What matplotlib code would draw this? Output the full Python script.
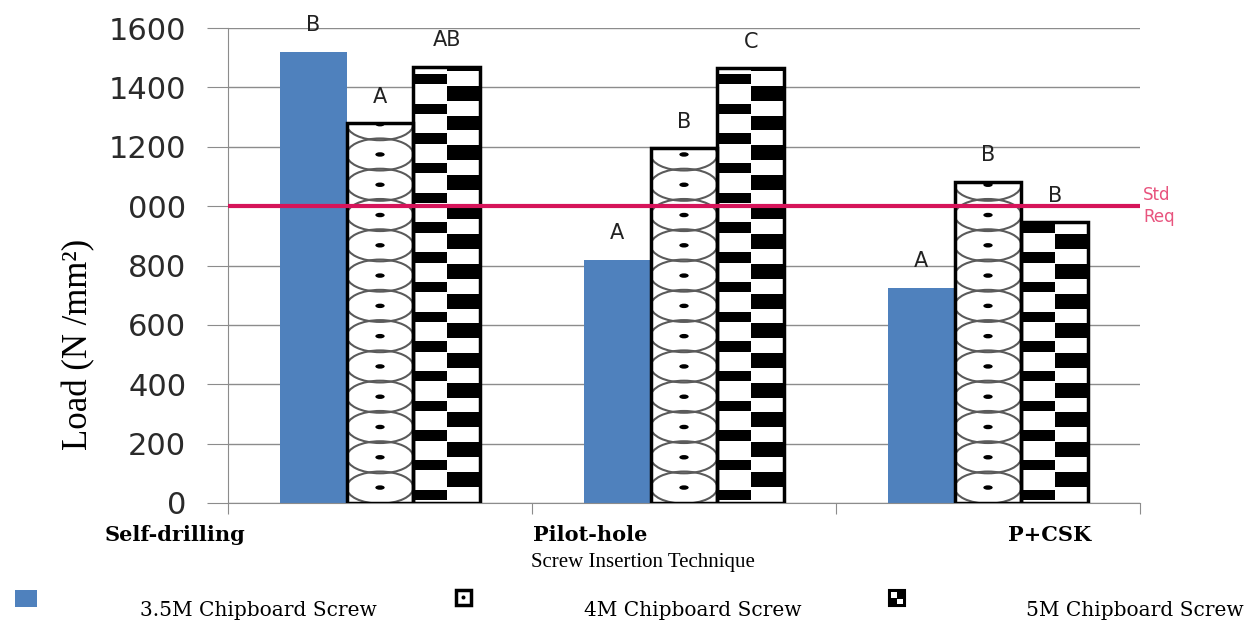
import numpy as np
import matplotlib
matplotlib.use('Agg')
import matplotlib.pyplot as plt
from matplotlib.patches import Ellipse, Rectangle

categories = ['Self-drilling', 'Pilot-hole', 'P+CSK']
series_names = ['3.5M Chipboard Screw', '4M Chipboard Screw', '5M Chipboard Screw']
load_35m = [1520, 820, 725]
load_4m = [1280, 1195, 1082]
load_5m = [1470, 1465, 945]
letters_35m = ['B', 'A', 'A']
letters_4m = ['A', 'B', 'B']
letters_5m = ['AB', 'C', 'B']
std_req = 1000
y_ticks = [0, 200, 400, 600, 800, 1000, 1200, 1400, 1600]
y_tick_labels = ['0', '200', '400', '600', '800', '000', '1200', '1400', '1600']

BLUE = '#4F81BD'
GRID = '#8c8c8c'
TIMES = ['Liberation Serif', 'DejaVu Serif']
CAMBRIA = ['DejaVu Serif']


def ellipse_fill(ax, bar):
    x0, w, h = bar.get_x(), bar.get_width(), bar.get_height()
    xc = x0 + w / 2
    for yc in np.arange(52, h + 100, 102):
        e = Ellipse((xc, yc), w * 1.0, 108, fill=False, ec='#5a5a5a', lw=1.5, zorder=3)
        ax.add_patch(e)
        e.set_clip_path(bar)
        d = Ellipse((xc, yc), w * 0.14, 15, fc='black', ec='none', zorder=3)
        ax.add_patch(d)
        d.set_clip_path(bar)


def checker_fill(ax, bar):
    x0, w, h = bar.get_x(), bar.get_width(), bar.get_height()
    for y in np.arange(-100, h + 100, 100):
        r1 = Rectangle((x0, y + 10), w / 2, 35, fc='black', ec='none', zorder=3)
        ax.add_patch(r1)
        r1.set_clip_path(bar)
        r2 = Rectangle((x0 + w / 2, y + 55), w / 2, 50, fc='black', ec='none', zorder=3)
        ax.add_patch(r2)
        r2.set_clip_path(bar)


fig = plt.figure(figsize=(12.5, 6.25), dpi=100)
ax = fig.add_axes([0.1824, 0.1952, 0.7296, 0.76])

x = np.arange(len(categories))
bw = 0.22
b1 = ax.bar(x - bw, load_35m, bw, color=BLUE, zorder=2)
b2 = ax.bar(x, load_4m, bw, color='none', ec='black', lw=2.5, zorder=4)
b3 = ax.bar(x + bw, load_5m, bw, color='none', ec='black', lw=2.5, zorder=4)
for b in list(b2) + list(b3):
    ax.add_patch(Rectangle((b.get_x(), 0), b.get_width(), b.get_height(), fc='white', ec='none', zorder=2))
for b in b2:
    ellipse_fill(ax, b)
for b in b3:
    checker_fill(ax, b)

for bars, letters in ((b1, letters_35m), (b2, letters_4m), (b3, letters_5m)):
    for b, t in zip(bars, letters):
        ax.annotate(t, (b.get_x() + b.get_width() / 2, b.get_height()), xytext=(0, 19),
                    textcoords='offset points', ha='center', va='center', fontsize=15,
                    color='#222222', annotation_clip=False)

ax.axhline(std_req, color='#D6145A', lw=3, zorder=5)
ax.text(2.51, std_req, 'Std\nReq', color='#E8547E', fontsize=12, va='center', ha='left',
        linespacing=1.3)

ax.set_xlim(-0.5, 2.5)
ax.set_ylim(0, 1600)
ax.set_yticks(y_ticks)
ax.set_yticklabels(y_tick_labels, fontsize=22, color='#2a2a2a')
ax.yaxis.grid(True, color=GRID, lw=1)
ax.set_axisbelow(True)
ax.tick_params(axis='y', length=15, color=GRID, pad=15)
ax.set_xticks([-0.5, 0.5, 1.5, 2.5])
ax.set_xticklabels([])
ax.tick_params(axis='x', length=8, color=GRID)
for s in ('top', 'right'):
    ax.spines[s].set_visible(False)
for s in ('left', 'bottom'):
    ax.spines[s].set_color(GRID)

ax.set_ylabel('Load (N /mm²)', fontsize=25, family=TIMES)
ax.yaxis.set_label_coords(-0.145, 0.333)

# category labels sit off-centre in the original
cat_x = [175, 590, 1050]
for cx, c in zip(cat_x, categories):
    fig.text(cx / 1250, 1 - 535 / 625, c, ha='center', va='center', fontsize=15,
             fontweight='bold', family=CAMBRIA)
fig.text(643 / 1250, 1 - 563 / 625, 'Screw Insertion Technique', ha='center', va='center',
         fontsize=15, family=TIMES)

# legend
leg_text_x = [258, 693, 1135]
for tx, name in zip(leg_text_x, series_names):
    fig.text(tx / 1250, 1 - 611 / 625, name, ha='center', va='center', fontsize=14.5,
             family=CAMBRIA)
fig.add_artist(Rectangle((15 / 1250, 1 - 607 / 625), 22 / 1250, 17 / 625, fc=BLUE, ec='none',
                         transform=fig.transFigure))
fig.add_artist(Rectangle((456 / 1250, 1 - 605 / 625), 15 / 1250, 15 / 625, fc='white', ec='black',
                         lw=2.5, transform=fig.transFigure))
fig.add_artist(Ellipse((463.5 / 1250, 1 - 597.5 / 625), 4 / 1250, 4 / 625, fc='black',
                       transform=fig.transFigure))
fig.add_artist(Rectangle((889 / 1250, 1 - 606 / 625), 16 / 1250, 16 / 625, fc='black', ec='black',
                         lw=1.5, transform=fig.transFigure))
fig.add_artist(Rectangle((891 / 1250, 1 - 598 / 625), 6 / 1250, 6 / 625, fc='white', ec='none',
                         transform=fig.transFigure))
fig.add_artist(Rectangle((897 / 1250, 1 - 604 / 625), 6 / 1250, 5 / 625, fc='white', ec='none',
                         transform=fig.transFigure))

fig.savefig('out.png', dpi=100)
